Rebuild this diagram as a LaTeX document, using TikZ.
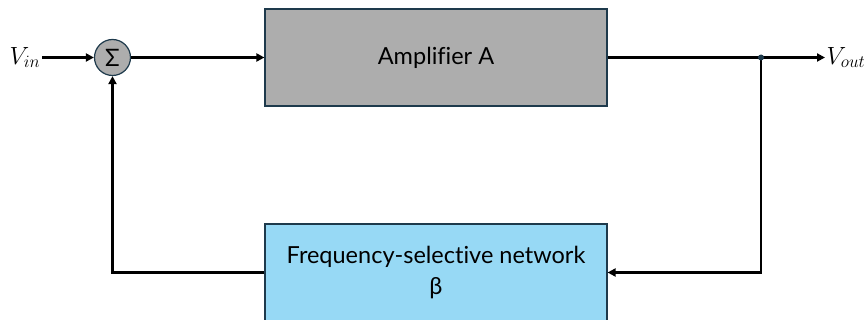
\documentclass[tikz,border=0pt]{standalone}
\usepackage{fontspec}
\usetikzlibrary{arrows.meta}
\newfontfamily\lblfont[Ligatures=NoCommon]{Lato}
\definecolor{edgec}{HTML}{1E3A4C}
\definecolor{ampfill}{HTML}{ADADAD}
\definecolor{netfill}{HTML}{97D9F5}
\tikzset{
  blockbox/.style={draw=edgec, line width=1.2pt, minimum width=342pt, minimum height=97pt, inner sep=0pt, font=\lblfont\fontsize{23.5}{31}\selectfont, align=center},
  sig/.style={line width=2.4pt, -{Triangle[length=8pt,width=8pt]}},
  vlabel/.style={inner sep=1.5pt, font=\fontsize{24}{28}\selectfont},
}
\begin{document}
\begin{tikzpicture}[x=1pt,y=-1pt]
\useasboundingbox (0,0) rectangle (866,320);
\node[blockbox, fill=ampfill] (amp) at (436,57.5) {Amplifier A};
\node[blockbox, fill=netfill] (net) at (436,272.5) {Frequency-selective network\\β};
\node[circle, draw=edgec, line width=1.2pt, fill=ampfill, minimum size=36pt, inner sep=0pt, font=\lblfont\fontsize{24}{24}\selectfont] (sum) at (112.5,57.5) {Σ};
\node[vlabel, anchor=east] (vin) at (42,57.5) {$V_{in}$};
\node[vlabel, anchor=west] (vout) at (825,57.5) {$V_{out}$};
\coordinate (tap) at (761,57.5);
\draw[sig] (vin.east) -- (sum.west);
\draw[sig] (sum.east) -- (amp.west);
\draw[sig] (amp.east) -- (vout.west);
\draw[sig] (tap) |- (net.east);
\draw[sig] (net.west) -| (sum.south);
\fill[edgec] (tap) circle (3pt);
\end{tikzpicture}
\end{document}
